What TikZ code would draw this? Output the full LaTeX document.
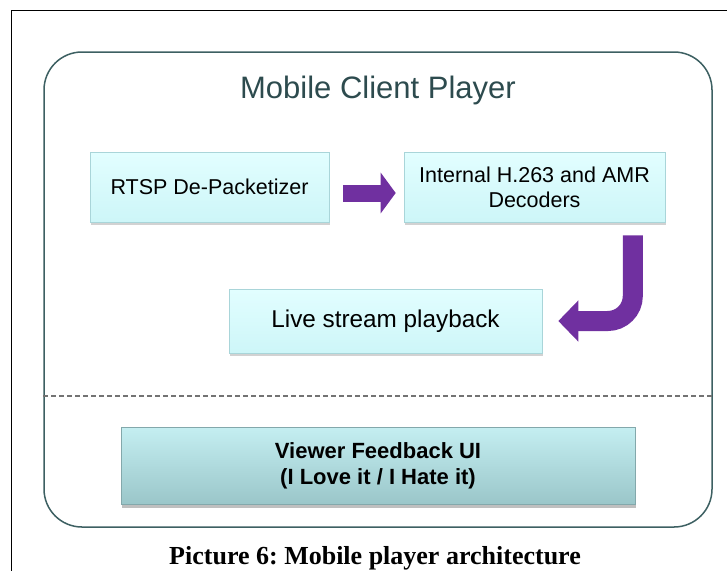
\documentclass[tikz,border=0pt]{standalone}
\usepackage{fontspec}
\setmainfont{Liberation Sans}
\newfontfamily\captionfont{Liberation Serif}
\usetikzlibrary{calc,shadows,arrows.meta}
\definecolor{tealline}{HTML}{3D6062}
\definecolor{titleteal}{HTML}{2D4B4E}
\definecolor{boxtop}{HTML}{E2FEFF}
\definecolor{boxbottom}{HTML}{CDF6F8}
\definecolor{boxline}{HTML}{A9D5D9}
\definecolor{uitop}{HTML}{C4EEF1}
\definecolor{uibottom}{HTML}{9AC6C9}
\definecolor{arrowpurple}{HTML}{7030A0}
\frenchspacing

\begin{document}
\begin{tikzpicture}
[x=1pt,y=-1pt,%
  playerDecorate/.style={draw=tealline,line width=1.5pt,rounded corners=38pt,%
    minimum width=668pt,minimum height=475pt},%
  stageDecorate/.style={draw=boxline,line width=0.6pt,top color=boxtop,bottom color=boxbottom,%
    drop shadow={shadow xshift=1pt,shadow yshift=-3pt,fill=black!35},%
    align=center,inner sep=0pt,font=\fontsize{21.5}{25}\selectfont},%
  uiDecorate/.style={draw=uibottom!85!black,line width=0.6pt,top color=uitop,bottom color=uibottom,%
    drop shadow={shadow xshift=1pt,shadow yshift=-3pt,fill=black!50},%
    align=center,inner sep=0pt,font=\bfseries\fontsize{22}{26}\selectfont},%
  arrowDecorate/.style={draw=arrowpurple,line width=17pt,-{Triangle[length=15pt,width=40pt]}},%
  turnDecorate/.style={draw=arrowpurple,line width=20pt,rounded corners=25pt,%
    -{Triangle[length=20pt,width=40pt]}}]
\useasboundingbox (0,0) rectangle (727,571);
%% page frame
\draw[line width=1pt] (727,10) -- (11,10) -- (11,571);
%% outer box and title
\node (player) at (378,289.5) [playerDecorate] {};
\node (title) at (378,90) [text=titleteal,font=\fontsize{31}{36}\selectfont] {Mobile Client Player};
%% stages
\foreach \nodename/\x/\y/\w/\h/\txt in {rtsp/209.5/187/239/70/RTSP De-Packetizer,
  dec/534.5/187/261/70/{Internal H.263 and AMR\\Decoders},
  live/385.5/321/313/64/{\fontsize{24.3}{28}\selectfont Live stream playback}}
{
  \node (\nodename) at (\x,\y) [stageDecorate,minimum width=\w pt,minimum height=\h pt] {\txt};
}
%% divider
\draw[black!55,line width=1.1pt,dash pattern=on 5pt off 3pt] (player.west |- 0,396) -- (player.east |- 0,396);
%% feedback
\node (ui) at (378,466) [uiDecorate,minimum width=514pt,minimum height=77pt]
  {Viewer Feedback UI\\(I Love it / I Hate it)};
%% arrows
\draw[arrowDecorate] ($(rtsp.east)+(14,6)$) -- ($(dec.west)+(-8,6)$);
\draw[turnDecorate] ($(dec.south east)+(-32.5,13)$) |- ($(live.east)+(16,0)$);
%% caption
\node (caption) at (375,564.5) [anchor=base,font=\captionfont\bfseries\fontsize{26}{30}\selectfont]
  {Picture 6: Mobile player architecture};
\end{tikzpicture}
\end{document}
